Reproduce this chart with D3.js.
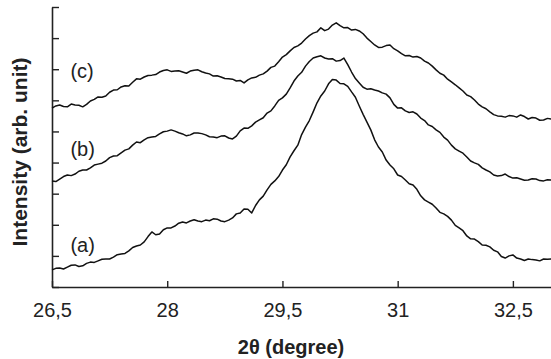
<!DOCTYPE html>
<html>
<head>
<meta charset="utf-8">
<script src="https://cdn.jsdelivr.net/npm/d3@7"></script>
<style>
  body { margin: 0; background: #fff; }
  text { font-family: "Liberation Sans", Arial, sans-serif; fill: #222; }
</style>
</head>
<body>
<div id="chart1"></div>
<script>
var w = 551,
  h = 359;

// 2theta positions, step 0.05 degree
var angles = d3.range(0, 131).map(function (i) { return +(26.5 + i * 0.05).toFixed(2); });

var curve_a = [0.55, 0.60, 0.61, 0.58, 0.64, 0.70, 0.71, 0.66, 0.68, 0.76,
  0.80, 0.79, 0.84, 0.89, 0.90, 0.90, 0.96, 1.04, 1.06, 1.08,
  1.16, 1.27, 1.32, 1.35, 1.45, 1.62, 1.77, 1.68, 1.70, 1.84,
  1.90, 1.90, 1.96, 2.05, 2.09, 2.06, 2.12, 2.16, 2.12, 2.10,
  2.15, 2.13, 2.19, 2.18, 2.12, 2.10, 2.15, 2.22, 2.35, 2.38,
  2.51, 2.50, 2.38, 2.62, 2.80, 2.92, 3.12, 3.30, 3.41, 3.55,
  3.76, 3.93, 4.18, 4.38, 4.56, 4.90, 5.14, 5.35, 5.63, 5.92,
  6.14, 6.30, 6.53, 6.67, 6.65, 6.54, 6.53, 6.45, 6.27, 6.10,
  5.82, 5.55, 5.30, 5.05, 4.73, 4.50, 4.34, 4.08, 3.92, 3.80,
  3.60, 3.55, 3.44, 3.32, 3.28, 3.14, 2.93, 2.80, 2.73, 2.66,
  2.54, 2.40, 2.35, 2.27, 2.15, 1.98, 1.90, 1.81, 1.64, 1.55,
  1.54, 1.46, 1.35, 1.34, 1.29, 1.18, 1.13, 0.98, 0.93, 1.00,
  1.03, 0.93, 0.90, 0.85, 0.90, 0.88, 0.87, 0.84, 0.90, 0.89,
  0.90];

var curve_b = [3.41, 3.39, 3.47, 3.55, 3.60, 3.58, 3.63, 3.72, 3.76, 3.76,
  3.83, 3.92, 3.95, 3.98, 4.05, 4.16, 4.21, 4.22, 4.31, 4.40,
  4.44, 4.56, 4.66, 4.64, 4.73, 4.80, 4.82, 4.84, 4.92, 4.99,
  5.01, 5.05, 5.01, 4.96, 4.92, 4.86, 4.89, 4.95, 4.95, 4.93,
  4.89, 4.83, 4.82, 4.80, 4.85, 4.86, 4.79, 4.76, 4.85, 5.02,
  5.11, 5.10, 5.18, 5.30, 5.37, 5.44, 5.59, 5.66, 5.82, 6.00,
  6.08, 6.20, 6.40, 6.62, 6.78, 6.90, 7.10, 7.25, 7.36, 7.40,
  7.43, 7.36, 7.33, 7.34, 7.26, 7.28, 7.36, 7.15, 6.91, 6.70,
  6.56, 6.42, 6.36, 6.37, 6.33, 6.30, 6.24, 6.20, 6.08, 5.87,
  5.75, 5.76, 5.66, 5.61, 5.63, 5.56, 5.43, 5.35, 5.21, 5.16,
  5.05, 4.97, 4.82, 4.72, 4.56, 4.44, 4.37, 4.30, 4.18, 4.05,
  3.99, 3.94, 3.83, 3.76, 3.70, 3.60, 3.57, 3.58, 3.63, 3.55,
  3.50, 3.51, 3.47, 3.43, 3.44, 3.48, 3.47, 3.42, 3.41, 3.45,
  3.44];

var curve_c = [5.75, 5.82, 5.85, 5.80, 5.79, 5.88, 5.85, 5.84, 5.79, 5.87,
  5.98, 6.03, 6.11, 6.10, 6.14, 6.26, 6.33, 6.34, 6.43, 6.47,
  6.46, 6.58, 6.69, 6.68, 6.75, 6.80, 6.81, 6.83, 6.91, 6.96,
  6.98, 6.93, 6.94, 6.95, 6.91, 6.87, 6.94, 6.97, 6.98, 6.92,
  6.88, 6.85, 6.78, 6.79, 6.75, 6.70, 6.69, 6.68, 6.62, 6.64,
  6.56, 6.66, 6.72, 6.74, 6.81, 6.85, 6.94, 7.06, 7.10, 7.24,
  7.39, 7.47, 7.59, 7.70, 7.75, 7.84, 7.97, 8.08, 8.16, 8.20,
  8.33, 8.24, 8.29, 8.42, 8.49, 8.40, 8.33, 8.34, 8.26, 8.28,
  8.23, 8.14, 8.00, 7.89, 7.78, 7.70, 7.71, 7.76, 7.78, 7.66,
  7.59, 7.50, 7.43, 7.44, 7.39, 7.41, 7.36, 7.26, 7.20, 7.10,
  6.98, 6.87, 6.81, 6.68, 6.59, 6.50, 6.40, 6.30, 6.17, 6.12,
  6.01, 5.88, 5.79, 5.73, 5.63, 5.54, 5.50, 5.49, 5.46, 5.51,
  5.50, 5.46, 5.53, 5.48, 5.40, 5.45, 5.43, 5.36, 5.37, 5.42,
  5.40];

var series_names = ["(a)", "(b)", "(c)"];
var label_pos = [[26.74, 1.12], [26.74, 4.21], [26.74, 6.72]];   // x, y of label baselines in data units
var x_ticks = [26.5, 28, 29.5, 31, 32.5];
var y_ticks = d3.range(0, 10);

draw();

function fmt(v) {
  return String(v).replace(".", ",");
}

function draw() {
  var svg = d3.select("#chart1").append("svg").attr("width", w).attr("height", h);

  var x = d3.scaleLinear().domain([26.5, 33.0]).range([52, 551.3]);
  var y = d3.scaleLinear().domain([0, 9]).range([287, 7]);

  // axes, ticks pointing inward
  var xa = svg.append("g").attr("transform", "translate(0,287)")
    .call(d3.axisBottom(x).tickValues(x_ticks).tickSizeInner(-6).tickSizeOuter(0).tickPadding(16).tickFormat(fmt));
  xa.select(".domain").attr("stroke", "#222").attr("stroke-width", 1.6);
  xa.selectAll(".tick line").attr("stroke", "#222").attr("stroke-width", 1.4);
  xa.selectAll(".tick text").attr("font-size", 20).attr("fill", "#333")
    .attr("font-family", "Liberation Sans, Arial, sans-serif");

  var ya = svg.append("g").attr("transform", "translate(52,0)")
    .call(d3.axisLeft(y).tickValues(y_ticks).tickSizeInner(-7).tickSizeOuter(0).tickFormat(""));
  ya.select(".domain").attr("stroke", "#222").attr("stroke-width", 1.6);
  ya.selectAll(".tick line").attr("stroke", "#222").attr("stroke-width", 1.4);

  var line = d3.line()
    .x(function (d) { return x(d[0]); })
    .y(function (d) { return y(d[1]); });

  [curve_a, curve_b, curve_c].forEach(function (vals) {
    svg.append("path")
      .datum(angles.map(function (a, i) { return [a, vals[i]]; }))
      .attr("fill", "none")
      .attr("stroke", "#111")
      .attr("stroke-width", 1.5)
      .attr("stroke-linejoin", "round")
      .attr("d", line);
  });

  series_names.forEach(function (n, i) {
    svg.append("text")
      .attr("x", x(label_pos[i][0]))
      .attr("y", y(label_pos[i][1]))
      .attr("font-size", 20)
      .attr("fill", "#333")
      .text(n);
  });

  svg.append("text")
    .attr("x", 291).attr("y", 354)
    .attr("text-anchor", "middle")
    .attr("font-size", 20).attr("font-weight", "bold")
    .text("2θ (degree)");

  svg.append("text")
    .attr("transform", "translate(27,152) rotate(-90)")
    .attr("text-anchor", "middle")
    .attr("font-size", 21).attr("font-weight", "bold")
    .text("Intensity (arb. unit)");
}
</script>
</body>
</html>
